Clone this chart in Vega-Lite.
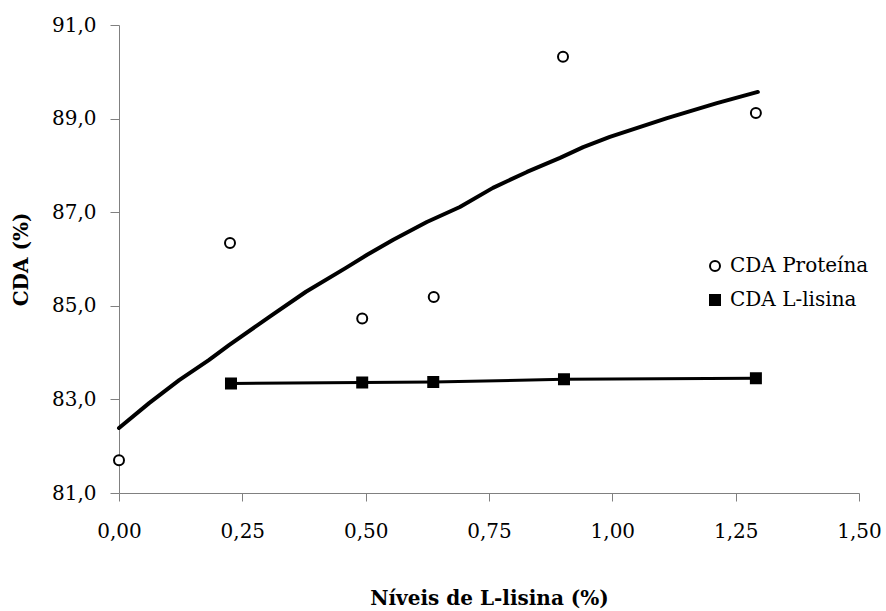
{
  "$schema": "https://vega.github.io/schema/vega-lite/v6.json",
  "width": 740,
  "height": 468,
  "autosize": {"type": "none"},
  "padding": {"left": 119, "top": 25, "right": 27, "bottom": 118},
  "background": "white",
  "config": {
    "view": {"stroke": null},
    "font": "DejaVu Serif",
    "axis": {
      "grid": false,
      "domainColor": "#808080",
      "tickColor": "#808080",
      "domainWidth": 1,
      "tickWidth": 1,
      "labelColor": "black",
      "labelFont": "DejaVu Serif",
      "labelFontSize": 20,
      "titleFont": "DejaVu Serif",
      "titleFontSize": 20,
      "titleFontWeight": "bold",
      "titleColor": "black"
    },
    "legend": {
      "labelFont": "DejaVu Serif",
      "labelFontSize": 20,
      "labelColor": "black",
      "symbolStrokeColor": "black",
      "symbolStrokeWidth": 2
    }
  },
  "datasets": {
    "curva": [
      {"x": 0, "y": 82.39},
      {"x": 0.061, "y": 82.92},
      {"x": 0.122, "y": 83.41},
      {"x": 0.182, "y": 83.84},
      {"x": 0.223, "y": 84.16},
      {"x": 0.31, "y": 84.8},
      {"x": 0.379, "y": 85.3},
      {"x": 0.46, "y": 85.81},
      {"x": 0.503, "y": 86.09},
      {"x": 0.556, "y": 86.41},
      {"x": 0.624, "y": 86.79},
      {"x": 0.691, "y": 87.11},
      {"x": 0.758, "y": 87.52},
      {"x": 0.827, "y": 87.86},
      {"x": 0.894, "y": 88.16},
      {"x": 0.941, "y": 88.39},
      {"x": 0.995, "y": 88.61},
      {"x": 1.111, "y": 89.01},
      {"x": 1.212, "y": 89.33},
      {"x": 1.295, "y": 89.57}
    ],
    "pontos": [
      {"x": 0, "y": 81.7, "serie": "CDA Proteína"},
      {"x": 0.225, "y": 86.34, "serie": "CDA Proteína"},
      {"x": 0.493, "y": 84.73, "serie": "CDA Proteína"},
      {"x": 0.638, "y": 85.19, "serie": "CDA Proteína"},
      {"x": 0.9, "y": 90.32, "serie": "CDA Proteína"},
      {"x": 1.291, "y": 89.12, "serie": "CDA Proteína"},
      {"x": 0.227, "y": 83.34, "serie": "CDA L-lisina"},
      {"x": 0.493, "y": 83.36, "serie": "CDA L-lisina"},
      {"x": 0.637, "y": 83.37, "serie": "CDA L-lisina"},
      {"x": 0.902, "y": 83.43, "serie": "CDA L-lisina"},
      {"x": 1.291, "y": 83.45, "serie": "CDA L-lisina"}
    ]
  },
  "encoding": {
    "x": {
      "field": "x",
      "type": "quantitative",
      "scale": {"domain": [0, 1.5], "nice": false, "zero": false},
      "axis": {
        "title": "Níveis de L-lisina (%)",
        "values": [0, 0.25, 0.5, 0.75, 1, 1.25, 1.5],
        "labelExpr": "replace(format(datum.value, '.2f'), '.', ',')",
        "tickSize": 8,
        "labelPadding": 20,
        "titlePadding": 47,
        "labelFlush": false
      }
    },
    "y": {
      "field": "y",
      "type": "quantitative",
      "scale": {"domain": [81, 91], "nice": false, "zero": false},
      "axis": {
        "title": "CDA (%)",
        "values": [81, 83, 85, 87, 89, 91],
        "labelExpr": "replace(format(datum.value, '.1f'), '.', ',')",
        "tickSize": 9,
        "labelPadding": 14,
        "titlePadding": 20,
        "labelFlush": false
      }
    }
  },
  "layer": [
    {
      "data": {"name": "curva"},
      "mark": {"type": "line", "color": "black", "strokeWidth": 4, "strokeJoin": "round", "strokeCap": "round"}
    },
    {
      "data": {"name": "pontos"},
      "transform": [{"filter": "datum.serie == 'CDA L-lisina'"}],
      "mark": {"type": "line", "color": "black", "strokeWidth": 3}
    },
    {
      "data": {"name": "pontos"},
      "mark": {"type": "point", "filled": true, "strokeWidth": 2, "opacity": 1},
      "encoding": {
        "shape": {
          "field": "serie",
          "type": "nominal",
          "scale": {"domain": ["CDA Proteína", "CDA L-lisina"], "range": ["circle", "square"]},
          "legend": {"title": null, "orient": "none", "legendX": 586, "legendY": 231, "padding": 0, "rowPadding": 14, "labelOffset": 5}
        },
        "fill": {
          "field": "serie",
          "type": "nominal",
          "scale": {"domain": ["CDA Proteína", "CDA L-lisina"], "range": ["white", "black"]},
          "legend": {"title": null, "orient": "none", "legendX": 586, "legendY": 231, "padding": 0, "rowPadding": 14, "labelOffset": 5}
        },
        "stroke": {
          "field": "serie",
          "type": "nominal",
          "scale": {"domain": ["CDA Proteína", "CDA L-lisina"], "range": ["black", "black"]},
          "legend": {"title": null, "orient": "none", "legendX": 586, "legendY": 231, "padding": 0, "rowPadding": 14, "labelOffset": 5}
        },
        "size": {
          "field": "serie",
          "type": "nominal",
          "scale": {"domain": ["CDA Proteína", "CDA L-lisina"], "range": [100, 100]},
          "legend": {"title": null, "orient": "none", "legendX": 586, "legendY": 231, "padding": 0, "rowPadding": 14, "labelOffset": 5}
        }
      }
    }
  ]
}
